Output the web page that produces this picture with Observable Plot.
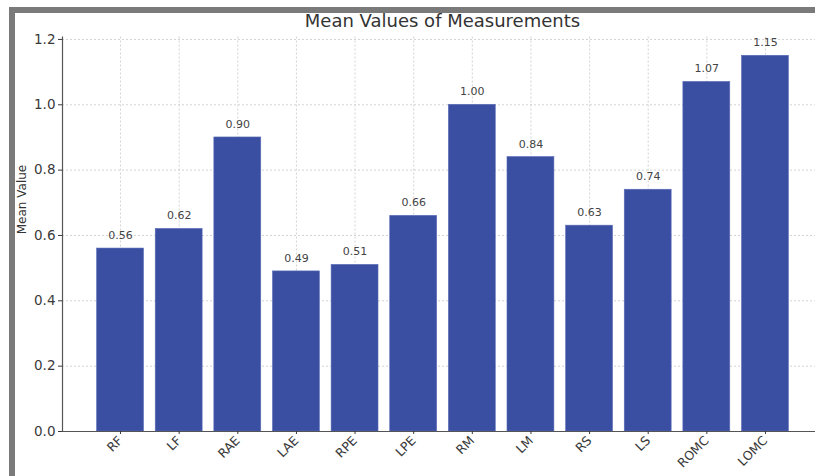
<!DOCTYPE html>
<html>
<head>
<meta charset="utf-8">
<script src="https://cdn.jsdelivr.net/npm/d3@7"></script>
<script src="https://cdn.jsdelivr.net/npm/@observablehq/plot@0.6"></script>
<style>
  html, body { margin: 0; padding: 0; background: #fff; }
  #wrap { position: relative; width: 815px; height: 476px; overflow: hidden; font-family: "DejaVu Sans", sans-serif; }
  #frame { position: absolute; left: 9px; top: 7px; width: 820px; height: 480px; border-left: 6px solid #7a7a7a; border-top: 6px solid #7a7a7a; pointer-events: none; z-index: 2; }
  #title { position: absolute; left: 62px; width: 761px; top: 10px; text-align: center; font-size: 18px; color: #333; z-index: 1; }
  #chart { position: absolute; left: 0; top: 0; }
  #chart svg { overflow: visible; }
</style>
</head>
<body>
<div id="wrap">
  <div id="chart"></div>
  <div id="title">Mean Values of Measurements</div>
  <div id="frame"></div>
</div>
<script>
const categories = ["RF", "LF", "RAE", "LAE", "RPE", "LPE", "RM", "LM", "RS", "LS", "ROMC", "LOMC"];
const values = [0.56, 0.62, 0.90, 0.49, 0.51, 0.66, 1.00, 0.84, 0.63, 0.74, 1.07, 1.15];
const yTicks = [0, 0.2, 0.4, 0.6, 0.8, 1.0, 1.2];

const data = categories.map((c, i) => ({i, c, v: values[i]}));
const idx = categories.map((_, i) => i);

const chart = Plot.plot({
  width: 815,
  height: 476,
  marginLeft: 62,
  marginRight: -8,
  marginTop: 36.5,
  marginBottom: 45,
  style: {fontFamily: "DejaVu Sans, sans-serif", background: "transparent", overflow: "visible"},
  x: {type: "linear", domain: [-0.99, 11.99]},
  y: {domain: [0, 1.2075]},
  marks: [
    Plot.gridY(yTicks, {stroke: "#c8c8c8", strokeOpacity: 1, strokeDasharray: "2,2", strokeWidth: 0.8}),
    Plot.gridX(idx, {stroke: "#c8c8c8", strokeOpacity: 1, strokeDasharray: "2,2", strokeWidth: 0.8}),
    Plot.rectY(data, {x1: d => d.i - 0.4, x2: d => d.i + 0.4, y1: 0, y2: "v", fill: "#3a4fa2", stroke: "#5a6cb8", strokeWidth: 0.6}),
    Plot.text(data, {x: "i", y: "v", text: d => d.v.toFixed(2), dy: -13, fontSize: 11, fill: "#444"}),
    Plot.ruleX([-0.99], {stroke: "#555", strokeWidth: 1.2}),
    Plot.ruleY([0], {stroke: "#555", strokeWidth: 1.2}),
    Plot.axisY(yTicks, {tickFormat: d => d.toFixed(1), fontSize: 13.5, tickSize: 4, tickPadding: 3, color: "#3a3a3a", label: null}),
    Plot.axisX(idx, {tickFormat: i => categories[i], tickRotate: -45, fontSize: 12.5, tickSize: 3, tickPadding: 4, color: "#3a3a3a", label: null}),
    Plot.text(["Mean Value"], {frameAnchor: "left", dx: -40, rotate: -90, fontSize: 12, fill: "#333"})
  ]
});
document.getElementById("chart").appendChild(chart);
</script>
</body>
</html>
